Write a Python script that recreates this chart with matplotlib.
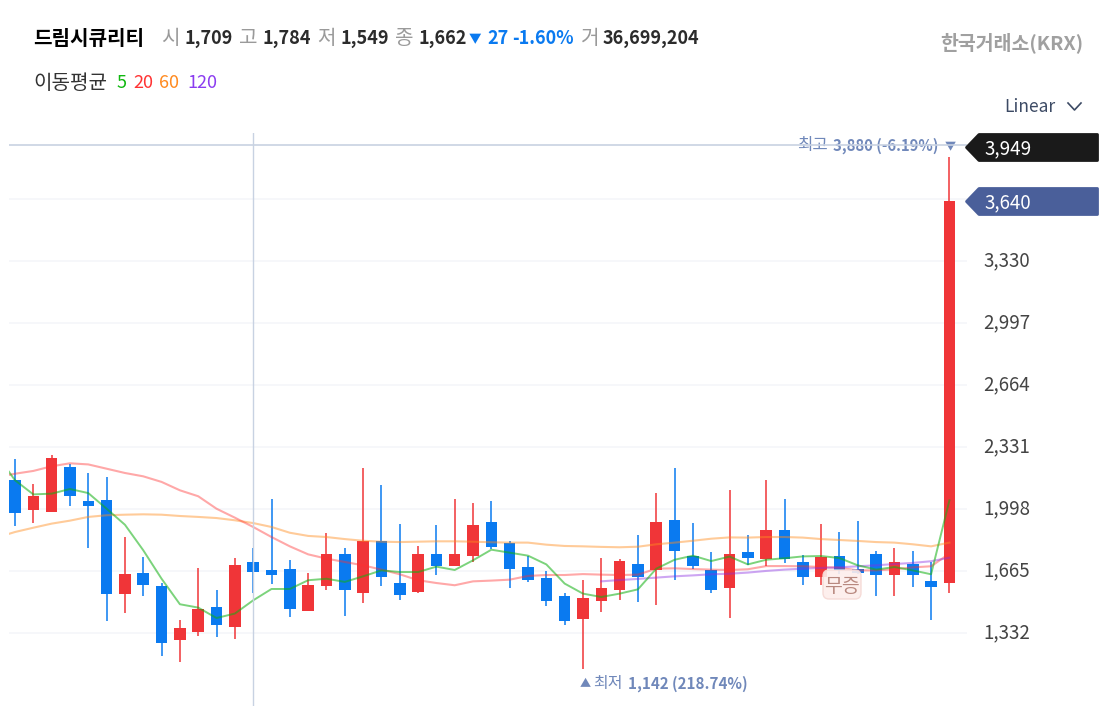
import numpy as np
import matplotlib
matplotlib.use("Agg")
import matplotlib.pyplot as plt
from matplotlib.patches import Polygon, FancyBboxPatch
from matplotlib.transforms import ScaledTranslation

plt.rcParams["font.family"] = ["Noto Sans CJK KR", "DejaVu Sans"]

W, H = 1114, 706
BLUE = "#0a7af0"
RED = "#f03538"
GRID = "#f5f6fa"
CROSS = "#c8d2e2"
MARK = "#7088ba"

# candles
opens = [2157, 1996, 1982, 2225, 2043, 2050, 1541, 1654, 1586, 1298, 1341, 1473, 1368, 1717, 1672, 1679, 1452, 1584,
         1758, 1548, 1828, 1602, 1554, 1758, 1695, 1747, 1932, 1815, 1688, 1627, 1532, 1411, 1506, 1566, 1706,
         1670, 1939, 1747, 1670, 1575, 1767, 1731, 1889, 1713, 1636, 1747, 1676, 1758, 1645, 1706, 1611, 1602]
highs = [2270, 2136, 2291, 2243, 2195, 2173, 1849, 1742, 1602, 1402, 1683, 1563, 1736, 1790, 2055, 1727, 1658, 1872,
         1792, 2222, 2130, 1919, 1803, 1915, 2055, 2034, 2041, 1828, 1747, 1665, 1548, 1617, 1738, 1733, 1858,
         2084, 2220, 1926, 1769, 2102, 1858, 2157, 2055, 1751, 1919, 1876, 1937, 1774, 1788, 1774, 1715, 3890]
lows = [1906, 1924, 1982, 2014, 1792, 1398, 1441, 1531, 1212, 1180, 1318, 1314, 1300, 1548, 1595, 1421, 1452, 1566,
        1423, 1495, 1586, 1513, 1550, 1643, 1692, 1717, 1785, 1575, 1608, 1480, 1375, 1142, 1448, 1511, 1498,
        1486, 1620, 1677, 1548, 1414, 1701, 1692, 1711, 1590, 1590, 1652, 1650, 1534, 1532, 1579, 1402, 1548]
closes = [1980, 2069, 2275, 2068, 2014, 1541, 1652, 1593, 1282, 1361, 1464, 1375, 1697, 1661, 1643, 1463, 1591, 1758,
          1566, 1826, 1634, 1538, 1758, 1695, 1758, 1914, 1797, 1679, 1618, 1506, 1400, 1523, 1575, 1722, 1636,
          1932, 1772, 1693, 1566, 1758, 1736, 1889, 1729, 1636, 1740, 1670, 1654, 1645, 1715, 1643, 1582, 3655]

# moving averages, first point sits just left of the visible area
ma5 = [2291, 2154, 2078, 2082, 2107, 2085, 2001, 1915, 1778, 1625, 1488, 1470, 1414, 1438, 1509, 1570, 1570, 1617, 1625,
       1608, 1638, 1670, 1661, 1661, 1690, 1672, 1724, 1781, 1765, 1749, 1702, 1599, 1545, 1527, 1545, 1568,
       1679, 1727, 1749, 1720, 1744, 1702, 1727, 1735, 1745, 1747, 1736, 1697, 1674, 1688, 1670, 1649, 2046]
ma20 = [2170, 2189, 2204, 2229, 2245, 2239, 2216, 2193, 2175, 2145, 2100, 2068, 2001, 1953, 1903, 1849, 1799, 1756, 1733,
        1715, 1697, 1674, 1649, 1617, 1602, 1590, 1611, 1615, 1620, 1640, 1645, 1645, 1650, 1647, 1645, 1647,
        1679, 1681, 1677, 1674, 1672, 1676, 1693, 1693, 1692, 1688, 1684, 1670, 1670, 1676, 1686, 1692, 1760]
ma60 = [1846, 1876, 1899, 1921, 1937, 1957, 1966, 1969, 1971, 1969, 1962, 1957, 1951, 1939, 1924, 1903, 1872, 1855, 1849,
        1838, 1829, 1824, 1822, 1824, 1826, 1826, 1824, 1821, 1819, 1819, 1808, 1801, 1799, 1796, 1794, 1797,
        1810, 1819, 1829, 1840, 1847, 1846, 1849, 1849, 1846, 1838, 1833, 1828, 1822, 1819, 1810, 1799, 1819]
# 120 day line only exists from candle 32 on
ma120 = [1611, 1618, 1624, 1631, 1638, 1643, 1649, 1652, 1658, 1667, 1674, 1679, 1683, 1686, 1692, 1697, 1704, 1710,
         1719, 1738]

y_ticks = [1332, 1665, 1998, 2331, 2664, 2997, 3330, 3663]
y_labels = ["1,332", "1,665", "1,998", "2,331", "2,664", "2,997", "3,330", ""]
cross_idx = 13
cross_price = 3955

fig = plt.figure(figsize=(W / 100, H / 100), dpi=100, facecolor="white")

# price panel
ax = fig.add_axes([9 / W, 0, 958 / W, (706 - 133) / H])
ax.set_xlim(-0.3275, 51.96)
ax.set_ylim(941.5, 4019)
for sp in ax.spines.values():
    sp.set_visible(False)
ax.set_xticks([])
ax.yaxis.tick_right()
ax.set_yticks(y_ticks)
ax.set_yticklabels(y_labels, fontsize=13.5, color="#444444")
ax.tick_params(axis="y", length=0, pad=12)
ax.grid(axis="y", color=GRID, linewidth=1.2)
ax.set_axisbelow(True)
# labels sit a little above their gridline
for t in ax.get_yticklabels():
    t.set_transform(t.get_transform() + ScaledTranslation(0, 2.5 / 100, fig.dpi_scale_trans))

n = len(opens)
xs = np.arange(n)
o = np.array(opens)
c = np.array(closes)
cols = [RED if c[i] > o[i] else BLUE for i in range(n)]

ax.vlines(xs, lows, highs, colors=cols, linewidth=1.1, zorder=2)
ax.bar(xs, np.abs(c - o), bottom=np.minimum(o, c), width=0.63, color=cols, linewidth=0, zorder=3)

xm = np.arange(-1, n)
ax.plot(xm, ma60, color="#ff8c1e", alpha=0.45, linewidth=1.5, zorder=4)
ax.plot(xm, ma20, color="#ff3030", alpha=0.42, linewidth=1.5, zorder=4)
ax.plot(xm, ma5, color="#10b010", alpha=0.55, linewidth=1.4, zorder=5)
ax.plot(xs[32:], ma120, color="#8a2be2", alpha=0.42, linewidth=1.5, zorder=4)

# high / low markers
ax.text(938 / 18.32 - 15 / 18.32, 3950, "3,880 (-6.19%)", ha="right", va="center", fontsize=10.7, fontweight="bold",
        color=MARK, zorder=6)
ax.text(828 / 18.32 - 15 / 18.32, 3950, "최고", ha="right", va="center", fontsize=12, color=MARK, zorder=6)
ax.text(950 / 18.32 - 15 / 18.32, 3945, "▼", ha="center", va="center", fontsize=8, color=MARK, zorder=6)
ax.text(585 / 18.32 - 15 / 18.32, 1060, "▲", ha="center", va="center", fontsize=8, color=MARK, zorder=6)
ax.text(593 / 18.32 - 15 / 18.32, 1060, "최저", ha="left", va="center", fontsize=11.5, color=MARK, zorder=6)
ax.text(628 / 18.32 - 15 / 18.32, 1060, "1,142 (218.74%)", ha="left", va="center", fontsize=10.9, fontweight="bold",
        color=MARK, zorder=6)

# crosshair
ax.axvline(cross_idx, color=CROSS, linewidth=1, zorder=7)
ax.axhline(cross_price, color=CROSS, linewidth=1.2, zorder=7)

# overlay in pixels for the header and price tags
ov = fig.add_axes([0, 0, 1, 1], facecolor="none")
ov.set_xlim(0, W)
ov.set_ylim(H, 0)
ov.axis("off")


def label(x, y, s, color="#333333", size=13, bold=False, ha="left"):
    ov.text(x, y, s, color=color, fontsize=size, fontweight="bold" if bold else "normal", ha=ha, va="center")


GRAY = "#9a9a9a"
DARK = "#2b2b2b"
label(33, 38.5, "드림시큐리티", color="black", size=14.5, bold=True)
for x, s in [(161, "시"), (239, "고"), (317, "저"), (395, "종"), (581, "거")]:
    label(x, 38.5, s, color=GRAY, size=14.5)
for x, s in [(184, "1,709"), (262, "1,784"), (340, "1,549"), (418, "1,662"), (603, "36,699,204")]:
    label(x, 39, s, color=DARK, size=13, bold=True)
label(469, 40, "▼", color="#0a7af0", size=9)
label(487, 39, "27", color="#0a7af0", size=13, bold=True)
label(512, 39, "-1.60%", color="#0a7af0", size=13, bold=True)
label(1083, 43, "한국거래소(KRX)", color="#a0a0a0", size=14, bold=True, ha="right")

label(33, 83.5, "이동평균", color="#333333", size=14.5)
label(117, 83.5, "5", color="#10b810", size=13)
label(133, 83.5, "20", color="#ff3333", size=13)
label(159, 83.5, "60", color="#ff8a1f", size=13)
label(187, 83.5, "120", color="#8b3cf0", size=13)

label(1004, 106.5, "Linear", color="#3c4a64", size=12.5)
ov.plot([1068, 1074.5, 1081], [103, 110, 103], color="#3c4a64", linewidth=1.2)

# price tags on the right
for y0, y1, col, txt in [(133, 162, "#1a1a1a", "3,949"), (187, 216, "#4a5f9a", "3,640")]:
    ym = (y0 + y1) / 2
    ov.add_patch(Polygon([(966.5, ym), (979, y0 + 1.5), (1097.5, y0 + 1.5), (1097.5, y1 - 1.5), (979, y1 - 1.5)],
                         closed=True, facecolor=col, edgecolor=col, linewidth=2, joinstyle="round"))
    label(984, ym + 1.5, txt, color="white", size=13.5)

# stock event badge
ov.add_patch(FancyBboxPatch((826, 573), 32, 23, boxstyle="round,pad=3,rounding_size=6", facecolor="#fdeeec",
                            edgecolor="#f5d8d4", linewidth=1, alpha=0.9))
label(842, 586.5, "무증", color="#b8887f", size=14, ha="center")

fig.savefig("out.png", dpi=100, facecolor="white")
